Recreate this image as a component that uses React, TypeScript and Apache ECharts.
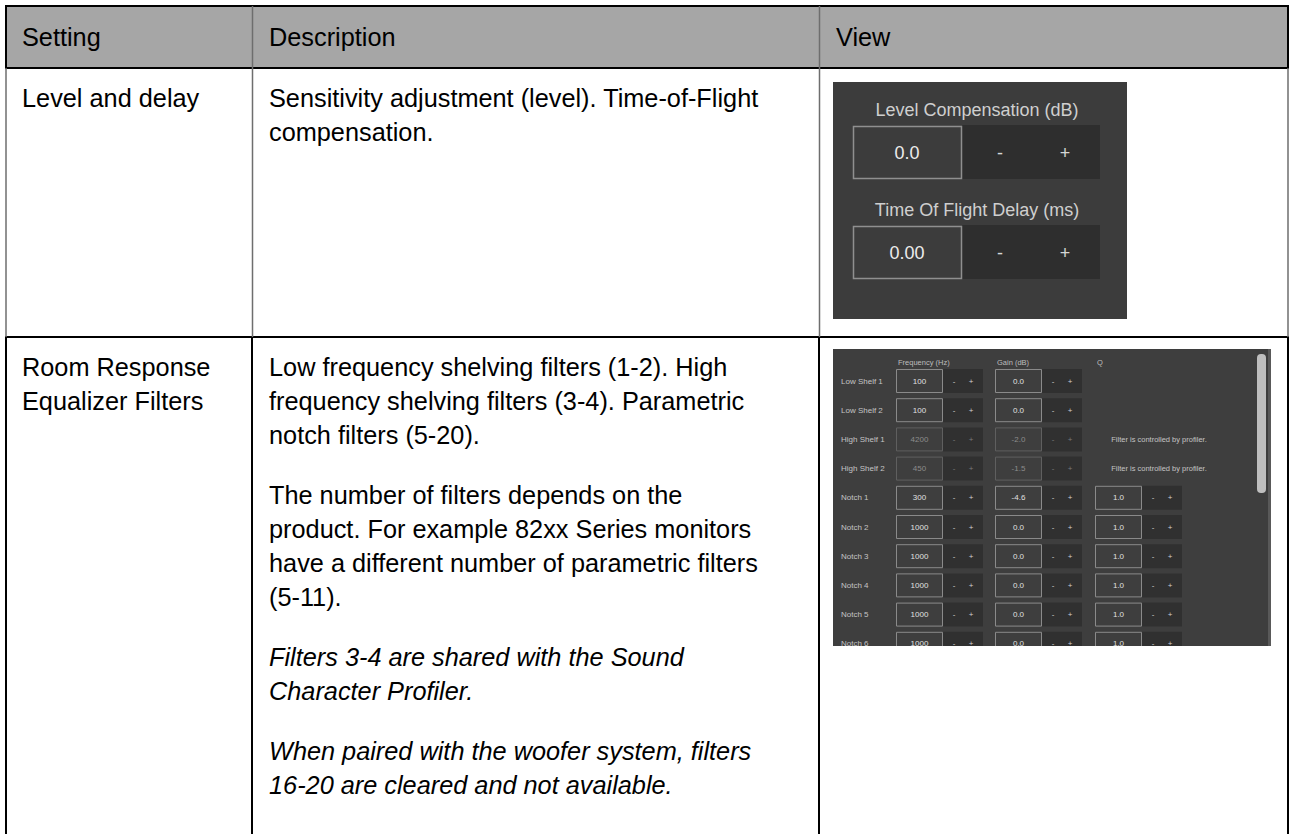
import React, { useEffect, useRef } from "react";
import * as echarts from "echarts";

// ---------- table content ----------
const headers = ["Setting", "Description", "View"];
const row1Setting = ["Level and delay"];
const row1Desc = ["Sensitivity adjustment (level). Time-of-Flight", "compensation."];
const row2Setting = ["Room Response", "Equalizer Filters"];
const row2Para1 = [
  "Low frequency shelving filters (1-2). High",
  "frequency shelving filters (3-4). Parametric",
  "notch filters (5-20).",
];
const row2Para2 = [
  "The number of filters depends on the",
  "product. For example 82xx Series monitors",
  "have a different number of parametric filters",
  "(5-11).",
];
const row2Para3 = ["Filters 3-4 are shared with the Sound", "Character Profiler."];
const row2Para4 = ["When paired with the woofer system, filters", "16-20 are cleared and not available."];

// ---------- screenshot 1 content ----------
const levelLabels = ["Level Compensation (dB)", "Time Of Flight Delay (ms)"];
const levelValues = ["0.0", "0.00"];

// ---------- screenshot 2 content ----------
const filterColumns = ["Frequency (Hz)", "Gain (dB)", "Q"];
const filterNames = [
  "Low Shelf 1", "Low Shelf 2", "High Shelf 1", "High Shelf 2",
  "Notch 1", "Notch 2", "Notch 3", "Notch 4", "Notch 5", "Notch 6",
];
const filterFreq = ["100", "100", "4200", "450", "300", "1000", "1000", "1000", "1000", "1000"];
const filterGain = ["0.0", "0.0", "-2.0", "-1.5", "-4.6", "0.0", "0.0", "0.0", "0.0", "0.0"];
const filterQ = ["", "", "", "", "1.0", "1.0", "1.0", "1.0", "1.0", "1.0"];
const filterProfiled = [false, false, true, true, false, false, false, false, false, false];
const profilerNote = "Filter is controlled by profiler.";

const FONT = "'Liberation Sans', Arial, Helvetica, sans-serif";

function txt(text: string, x: number, y: number, size: number, fill: string, align = "left", italic = false, z = 5) {
  return {
    type: "text",
    silent: true,
    z,
    style: {
      text, x, y, fill,
      fontSize: size,
      fontFamily: FONT,
      fontStyle: italic ? "italic" : "normal",
      textAlign: align, align,
      textVerticalAlign: "middle", verticalAlign: "middle",
    },
  };
}
function rect(x: number, y: number, w: number, h: number, style: any, z = 1, r = 0) {
  return { type: "rect", silent: true, z, shape: { x, y, width: w, height: h, r }, style };
}
function line(x1: number, y1: number, x2: number, y2: number, stroke: string, lw: number, z = 20) {
  return { type: "line", silent: true, z, shape: { x1, y1, x2, y2 }, style: { stroke, lineWidth: lw } };
}

function buildElements() {
  const els: any[] = [];
  const L = 6, C1 = 252, C2 = 819, R = 1288;
  const TOP = 6, HB = 68, R1B = 337, BOT = 840;
  const FS = 25.3;
  const pitch = 34;
  const paraGap = 26;
  const tx = [22, 269, 836];

  // header background
  els.push(rect(L, TOP, R - L, HB - TOP, { fill: "#a6a6a6" }, 0));
  headers.forEach((h, i) => els.push(txt(h, tx[i], 37, FS, "#000")));

  // row 1
  row1Setting.forEach((t, i) => els.push(txt(t, tx[0], 98 + i * pitch, FS, "#000")));
  row1Desc.forEach((t, i) => els.push(txt(t, tx[1], 98 + i * pitch, FS, "#000")));

  // row 2
  row2Setting.forEach((t, i) => els.push(txt(t, tx[0], 367 + i * pitch, FS, "#000")));
  let y = 367;
  const paras: [string[], boolean][] = [
    [row2Para1, false], [row2Para2, false], [row2Para3, true], [row2Para4, true],
  ];
  paras.forEach(([lines, it], pi) => {
    if (pi > 0) y += paraGap;
    lines.forEach((t) => {
      els.push(txt(t, tx[1], y, FS, "#000", "left", it));
      y += pitch;
    });
  });

  // ---------- screenshot 1 ----------
  els.push(rect(833, 82, 294, 237, { fill: "#3c3c3c" }, 1));
  const boxTops = [126, 226];
  levelLabels.forEach((lab, i) => {
    const bt = boxTops[i];
    els.push(txt(lab, 977, bt - 16, 18, "#cfcfcf", "center"));
    els.push(rect(962, bt - 1, 138, 54, { fill: "#2e2e2e" }, 2));
    els.push(rect(853.5, bt + 0.5, 108, 52, { fill: "#3c3c3c", stroke: "#8f8f8f", lineWidth: 1.5 }, 3));
    els.push(txt(levelValues[i], 907, bt + 27, 18, "#ececec", "center"));
    els.push(txt("-", 1000, bt + 27, 18, "#d6d6d6", "center"));
    els.push(txt("+", 1065, bt + 27, 18, "#d6d6d6", "center"));
  });

  // ---------- screenshot 2 ----------
  els.push(rect(833, 349, 438, 297, { fill: "#3e3e3e" }, 1));
  els.push(rect(1268, 349, 3, 297, { fill: "#595959" }, 2));
  els.push(rect(1257, 354, 9, 139, { fill: "#bfbfbf" }, 3, 4));
  const colBox = [896, 995, 1095];
  filterColumns.forEach((c, i) => els.push(txt(c, colBox[i] + 2, 362, 7.5, "#bdbdbd")));
  const rowPitch = 29.2;
  filterNames.forEach((name, i) => {
    const yc = 381 + i * rowPitch;
    const dis = filterProfiled[i];
    const boxStroke = dis ? "#5f5f5f" : "#8a8a8a";
    const valFill = dis ? "#8c8c8c" : "#e0e0e0";
    const btnFill = dis ? "#7a7a7a" : "#d0d0d0";
    els.push(txt(name, 841, yc, 8, "#c4c4c4"));
    const vals = [filterFreq[i], filterGain[i], filterQ[i]];
    vals.forEach((v, k) => {
      if (k === 2 && !v) return;
      const bx = colBox[k];
      els.push(rect(bx + 47, yc - 12, 40, 24, { fill: "#303030" }, 2));
      els.push(rect(bx + 0.5, yc - 11.5, 46, 23, { fill: "#3e3e3e", stroke: boxStroke, lineWidth: 1 }, 3));
      els.push(txt(v, bx + 23.5, yc, 8, valFill, "center"));
      els.push(txt("-", bx + 58, yc, 8, btnFill, "center"));
      els.push(txt("+", bx + 75, yc, 8, btnFill, "center"));
    });
    if (dis) els.push(txt(profilerNote, 1159, yc, 7.5, "#c4c4c4", "center"));
  });
  // clip bottom of screenshot 2
  els.push(rect(826, 646, 452, 40, { fill: "#ffffff" }, 10));

  // ---------- table rules ----------
  const gray = "#6e6e6e";
  els.push(line(L - 1, TOP, R + 1, TOP, "#000", 2));
  els.push(line(L - 1, HB, R + 1, HB, "#000", 2));
  els.push(line(L - 1, R1B, R + 1, R1B, "#000", 2));
  els.push(line(L, TOP, L, HB, "#000", 2));
  els.push(line(R, TOP, R, HB, "#000", 2));
  els.push(line(C1 + 0.5, TOP, C1 + 0.5, HB, gray, 1.5));
  els.push(line(C2 + 0.5, TOP, C2 + 0.5, HB, gray, 1.5));
  [L, C1 + 0.5, C2 + 0.5, R].forEach((x) => els.push(line(x, HB, x, R1B, gray, 1.5)));
  [L, C1, C2, R].forEach((x) => els.push(line(x, R1B, x, BOT, "#000", 2)));

  return els;
}

export default function App() {
  const ref = useRef<HTMLDivElement>(null);
  useEffect(() => {
    if (!ref.current) return;
    const chart = echarts.init(ref.current, null, { renderer: "svg", width: 1290, height: 834 });
    chart.setOption({ animation: false, graphic: { elements: buildElements() } });
    return () => chart.dispose();
  }, []);
  return (
    <div
      ref={ref}
      style={{ position: "fixed", left: 0, top: 0, width: 1290, height: 834, background: "#ffffff" }}
    />
  );
}
